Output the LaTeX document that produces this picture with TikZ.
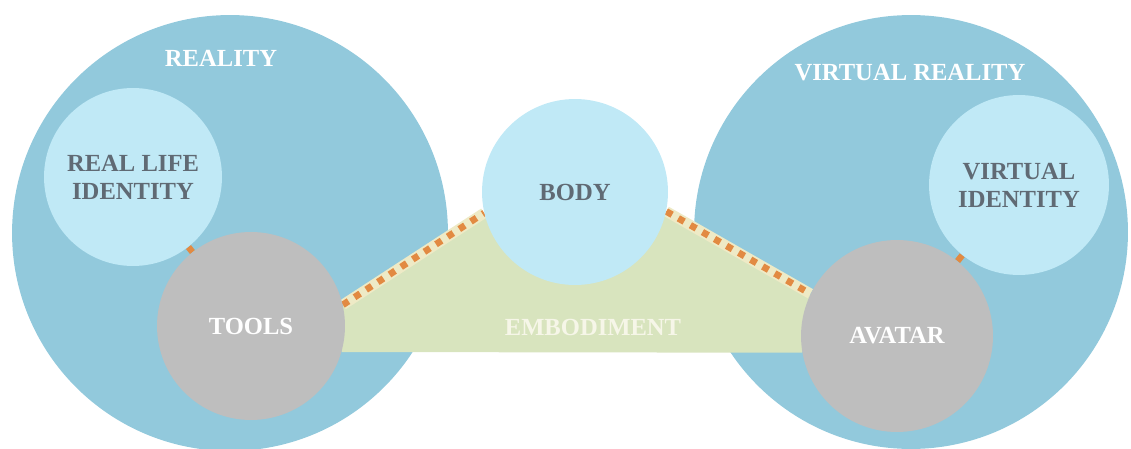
\documentclass[tikz,border=0pt]{standalone}
\usepackage{fontspec}
\setmainfont{Liberation Serif}
\usetikzlibrary{backgrounds}
\definecolor{realmBlue}{RGB}{146,201,220}
\definecolor{identBlue}{RGB}{192,233,246}
\definecolor{toolGray}{RGB}{190,190,190}
\definecolor{embodGreen}{RGB}{216,228,190}
\definecolor{linkOrange}{RGB}{226,138,66}
\definecolor{bandYellow}{RGB}{238,234,198}
\definecolor{darkText}{RGB}{96,106,116}
\definecolor{paleText}{RGB}{246,246,232}

\begin{document}
\begin{tikzpicture}[x=0.02cm, y=-0.02cm,
    realm/.style={circle, fill=realmBlue, inner sep=0pt},
    ident/.style={circle, fill=identBlue, inner sep=0pt, align=center, text=darkText, font=\fontsize{14}{16}\selectfont\bfseries},
    agent/.style={circle, fill=toolGray, inner sep=0pt, text=white, font=\fontsize{14}{16}\selectfont\bfseries},
    title/.style={text=white, font=\fontsize{14}{16}\selectfont\bfseries},
    link/.style={linkOrange, line width=3.6pt},
    band/.style={bandYellow, line width=6pt},
    dots/.style={linkOrange, line width=3.8pt, dash pattern=on 3.8pt off 4.1pt}
]
\useasboundingbox (0,0) rectangle (1131,449);

% the two worlds
\begin{scope}[on background layer]
\node[realm, minimum size=8.72cm] (reality) at (230,233) {};
\node[realm, minimum size=8.68cm] (virtual) at (911,232) {};
\end{scope}

\node[title] (realityLabel) at (221,58) {REALITY};
\node[title] (virtualLabel) at (910,73) {VIRTUAL REALITY};

% inner circles
\node[ident, minimum size=3.56cm] (realId) at (133,177) {REAL LIFE\\IDENTITY};
\node[agent, minimum size=3.76cm] (tools) at (251,326) {TOOLS};
\node[ident, minimum size=3.72cm] (body) at (575,192) {BODY};
\node[ident, minimum size=3.6cm] (virtId) at (1019,185) {VIRTUAL\\IDENTITY};
\node[agent, minimum size=3.84cm] (avatar) at (897,336) {AVATAR};

% embodiment area and links
\begin{scope}[on background layer]
\draw[link] (realId) -- (tools);
\draw[link] (virtId) -- (avatar);
\fill[embodGreen] (tools.13) -- (body.193) -- (body.348) -- (avatar.154)
    -- (avatar.190) -- (tools.-16) -- cycle;
\draw[band] (tools.13) -- (body.193);
\draw[band] (body.348) -- (avatar.154);
\draw[dots] (tools.13) -- (body.193);
\draw[dots] (body.348) -- (avatar.154);
\end{scope}

\node[title, text=paleText] (embodLabel) at (593,327) {EMBODIMENT};
\end{tikzpicture}
\end{document}
